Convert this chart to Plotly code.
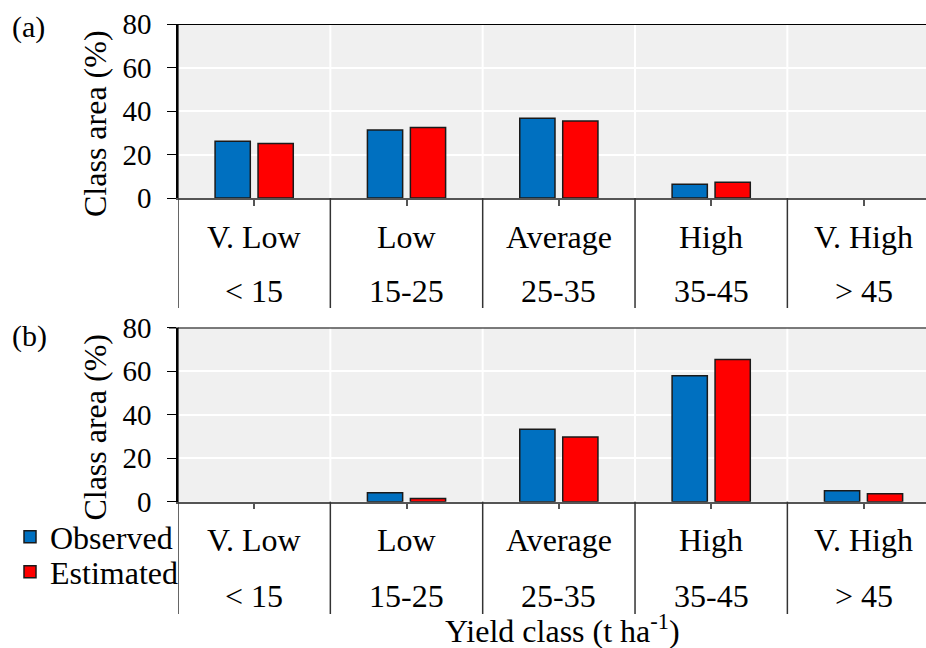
import plotly.graph_objects as go

categories = ["V. Low", "Low", "Average", "High", "V. High"]
ranges = ["< 15", "15-25", "25-35", "35-45", "> 45"]
obs_a = [26.1, 31.3, 36.7, 6.3, 0]
est_a = [25.1, 32.4, 35.4, 7.2, 0]
obs_b = [0, 4.1, 33.3, 57.8, 5.0]
est_b = [0, 1.5, 29.7, 65.3, 3.7]
y_ticks = [0, 20, 40, 60, 80]

W, H = 926, 648
BLUE = "#0070C0"
RED = "#FF0000"
FONT = "Liberation Serif"
CAT_SIZE = 32
TITLE_SIZE = 32

def py(pix):
    return 1 - pix / H

def nz(vals):
    return [v if v > 0 else None for v in vals]

x_dom = [178 / W, 1.0]
panels = [
    dict(top=24, bot=198, tbot=308, name_y=237, rng_y=291, lab_y=27, obs=obs_a, est=est_a, lab="(a)", xa="x", ya="y"),
    dict(top=327.5, bot=501.7, tbot=614, name_y=540, rng_y=596, lab_y=336, obs=obs_b, est=est_b, lab="(b)", xa="x2", ya="y2"),
]

fig = go.Figure()
xidx = list(range(len(categories)))
shapes = []
annotations = []
for i, p in enumerate(panels):
    show = i == 1
    fig.add_trace(go.Bar(x=xidx, y=nz(p["obs"]), name="Observed", marker=dict(color=BLUE, line=dict(color="#1a1a1a", width=1.5)),
                         xaxis=p["xa"], yaxis=p["ya"], showlegend=show, offsetgroup="o", legend="legend"))
    fig.add_trace(go.Bar(x=xidx, y=nz(p["est"]), name="Estimated", marker=dict(color=RED, line=dict(color="#1a1a1a", width=1.5)),
                         xaxis=p["xa"], yaxis=p["ya"], showlegend=show, offsetgroup="e", legend="legend2"))
    xref = p["xa"]
    yref = p["ya"]
    for b in [0.5, 1.5, 2.5, 3.5]:
        shapes.append(dict(type="line", xref=xref, yref=yref, x0=b, x1=b, y0=0, y1=80,
                           line=dict(color="white", width=2), layer="below"))
        shapes.append(dict(type="line", xref=xref, yref="paper", x0=b, x1=b, y0=py(p["bot"]), y1=py(p["tbot"]),
                           line=dict(color="#333333", width=1.5)))
    shapes.append(dict(type="line", xref=xref, yref="paper", x0=-0.5, x1=-0.5, y0=py(p["top"]), y1=py(p["tbot"]),
                       line=dict(color="#333333", width=1.5)))
    shapes.append(dict(type="line", xref="paper", yref=yref, x0=x_dom[0] - 9 / W, x1=1, y0=80, y1=80,
                       line=dict(color="black", width=2)))
    for k in xidx:
        annotations.append(dict(x=k, y=py(p["name_y"]), xref=xref, yref="paper", text=categories[k], showarrow=False,
                                font=dict(size=CAT_SIZE, color="black", family=FONT), xanchor="center", yanchor="middle"))
        annotations.append(dict(x=k, y=py(p["rng_y"]), xref=xref, yref="paper", text=ranges[k], showarrow=False,
                                font=dict(size=CAT_SIZE, color="black", family=FONT), xanchor="center", yanchor="middle"))
    annotations.append(dict(x=95 / W, y=py((p["top"] + p["bot"]) / 2 + 13), xref="paper", yref="paper", text="Class area (%)",
                            showarrow=False, textangle=-90, font=dict(size=TITLE_SIZE, color="black", family=FONT),
                            xanchor="center", yanchor="middle"))
    annotations.append(dict(x=10 / W, y=py(p["lab_y"]), xref="paper", yref="paper", text=p["lab"], showarrow=False,
                            font=dict(size=30, color="black", family=FONT), xanchor="left", yanchor="middle"))

annotations.append(dict(x=562 / W, y=py(629), xref="paper", yref="paper", text="Yield class (t ha<sup>-1</sup>)",
                        showarrow=False, font=dict(size=TITLE_SIZE, color="black", family=FONT), xanchor="center", yanchor="middle"))

axis_common_x = dict(range=[-0.5, 4.41], domain=x_dom, showgrid=False, zeroline=False, showline=True,
                     linecolor="#555555", linewidth=1.5, ticks="outside", ticklen=6, tickcolor="#555555",
                     tickwidth=1.5, tickvals=xidx, showticklabels=False, fixedrange=True, automargin=False)
axis_common_y = dict(range=[0, 80], tickvals=y_ticks, showgrid=True, gridcolor="white", gridwidth=2, zeroline=False,
                     showline=True, linecolor="black", linewidth=1.5, ticks="outside", ticklen=9, tickcolor="black",
                     tickfont=dict(size=29, color="black", family=FONT), ticklabelstandoff=10, automargin=False)

leg_common = dict(x=10 / W, xanchor="left", yanchor="middle", bgcolor="rgba(0,0,0,0)",
                  font=dict(size=CAT_SIZE, color="black", family=FONT), itemwidth=30, tracegroupgap=0)

fig.update_layout(
    width=W, height=H,
    margin=dict(l=0, r=0, t=0, b=0, autoexpand=False),
    paper_bgcolor="white",
    plot_bgcolor="#F0F0F0",
    barmode="group",
    bargap=0.436,
    bargroupgap=0.18,
    xaxis=dict(**axis_common_x, anchor="y"),
    yaxis=dict(**axis_common_y, domain=[py(panels[0]["bot"]), py(panels[0]["top"])], anchor="x"),
    xaxis2=dict(**axis_common_x, anchor="y2"),
    yaxis2=dict(**axis_common_y, domain=[py(panels[1]["bot"]), py(panels[1]["top"])], anchor="x2"),
    shapes=shapes,
    annotations=annotations,
    legend=dict(**leg_common, y=py(537)),
    legend2=dict(**leg_common, y=py(572)),
    showlegend=True,
)

fig.write_html("out.html")
